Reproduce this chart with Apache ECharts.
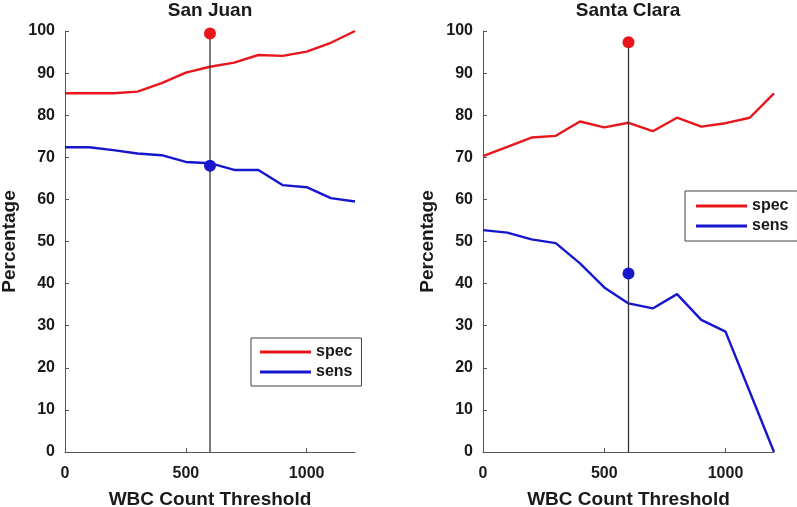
<!DOCTYPE html>
<html>
<head>
<meta charset="utf-8">
<script src="https://cdn.jsdelivr.net/npm/echarts@6/dist/echarts.min.js"></script>
<style>html,body{margin:0;padding:0;background:#fff}#c{width:797px;height:507px}</style>
</head>
<body>
<div id="c"></div>
<script>
const thresholds = [0,100,200,300,400,500,600,700,800,900,1000,1100,1200];
const sanJuanSpec = [85.2,85.2,85.2,85.6,87.6,90.1,91.5,92.5,94.3,94.1,95.1,97.2,100];
const sanJuanSens = [72.4,72.4,71.7,70.9,70.5,68.9,68.6,67.0,67.0,63.4,62.9,60.3,59.5];
const santaClaraSpec = [70.3,72.5,74.7,75.1,78.5,77.1,78.2,76.2,79.4,77.3,78.1,79.4,85.2];
const santaClaraSens = [52.7,52.1,50.5,49.6,44.8,39.1,35.3,34.1,37.5,31.4,28.6,14.3,0];
const chosenThreshold = 600;
const sanJuanDot = {spec: 99.4, sens: 68.0};
const santaClaraDot = {spec: 97.3, sens: 42.4};
const xTicks = [0,500,1000];
const panelTitles = ['San Juan','Santa Clara'];
const xName = 'WBC Count Threshold';
const yName = 'Percentage';

const FONT = '"Liberation Sans", Arial, sans-serif';
const RED = '#e8161b', BLUE = '#1616cc';
const pair = (xs, ys) => xs.map((x, i) => [x, ys[i]]);

const grids = [
  {left: 65, top: 31, width: 290, height: 421, outerBoundsMode: 'none', containLabel: false},
  {left: 483, top: 31, width: 291, height: 421, outerBoundsMode: 'none', containLabel: false}
];
const axisCommon = {
  axisLine: {lineStyle: {color: '#555', width: 1}},
  splitLine: {show: false},
  axisLabel: {color: '#1a1a1a', fontWeight: 'bold', fontSize: 16, fontFamily: FONT,
              formatter: v => String(v)},
  nameTextStyle: {color: '#1a1a1a', fontWeight: 'bold', fontSize: 19, fontFamily: FONT}
};
const xAxes = [0,1].map(i => ({
  ...axisCommon, type: 'value', gridIndex: i, min: 0, max: 1200,
  name: xName, nameLocation: 'middle', nameGap: 38,
  axisTick: {inside: true, length: 4, lineStyle: {color: '#555'}, customValues: xTicks},
  axisLabel: {...axisCommon.axisLabel, margin: 14, customValues: xTicks}
}));
const yAxes = [0,1].map(i => ({
  ...axisCommon, type: 'value', gridIndex: i, min: 0, max: 100, interval: 10,
  name: yName, nameLocation: 'middle', nameGap: 46,
  axisTick: {inside: true, length: 4, lineStyle: {color: '#555'}},
  axisLabel: {...axisCommon.axisLabel, margin: 10}
}));

function panel(i, spec, sens, dot) {
  return [
    {name: 'spec', type: 'line', xAxisIndex: i, yAxisIndex: i, data: pair(thresholds, spec),
     showSymbol: false, lineStyle: {color: RED, width: 2.4}, itemStyle: {color: RED}, clip: false},
    {name: 'sens', type: 'line', xAxisIndex: i, yAxisIndex: i, data: pair(thresholds, sens),
     showSymbol: false, lineStyle: {color: BLUE, width: 2.4}, itemStyle: {color: BLUE}, clip: false},
    {name: 'vline' + i, type: 'line', xAxisIndex: i, yAxisIndex: i,
     data: [[chosenThreshold, 0], [chosenThreshold, dot.spec]],
     showSymbol: false, lineStyle: {color: '#333', width: 1.3}, z: 3},
    {name: 'dots' + i, type: 'scatter', xAxisIndex: i, yAxisIndex: i, symbolSize: 12, z: 5,
     data: [
       {value: [chosenThreshold, dot.spec], itemStyle: {color: RED, opacity: 1}},
       {value: [chosenThreshold, dot.sens], itemStyle: {color: BLUE, opacity: 1}}
     ]}
  ];
}

const legendCommon = {
  data: ['spec','sens'], orient: 'vertical', icon: 'rect', itemWidth: 51, itemHeight: 3,
  itemGap: 4, selectedMode: false, backgroundColor: '#fff', borderColor: '#444', borderWidth: 1,
  textStyle: {color: '#1a1a1a', fontWeight: 'bold', fontSize: 16, fontFamily: FONT, lineHeight: 16}
};

const chart = echarts.init(document.getElementById('c'), null, {renderer: 'canvas'});
chart.setOption({
  animation: false,
  backgroundColor: '#fff',
  title: [
    {text: panelTitles[0], left: 210, textAlign: 'center', top: 1, padding: 0,
     textStyle: {fontSize: 19, fontWeight: 'bold', color: '#1a1a1a', fontFamily: FONT}},
    {text: panelTitles[1], left: 628, textAlign: 'center', top: 1, padding: 0,
     textStyle: {fontSize: 19, fontWeight: 'bold', color: '#1a1a1a', fontFamily: FONT}}
  ],
  legend: [
    {...legendCommon, left: 251, top: 338, padding: [6, 9, 6, 9]},
    {...legendCommon, left: 685, top: 191, padding: [7, 9, 7, 11]}
  ],
  grid: grids,
  xAxis: xAxes,
  yAxis: yAxes,
  series: [
    ...panel(0, sanJuanSpec, sanJuanSens, sanJuanDot),
    ...panel(1, santaClaraSpec, santaClaraSens, santaClaraDot)
  ]
});
</script>
</body>
</html>
